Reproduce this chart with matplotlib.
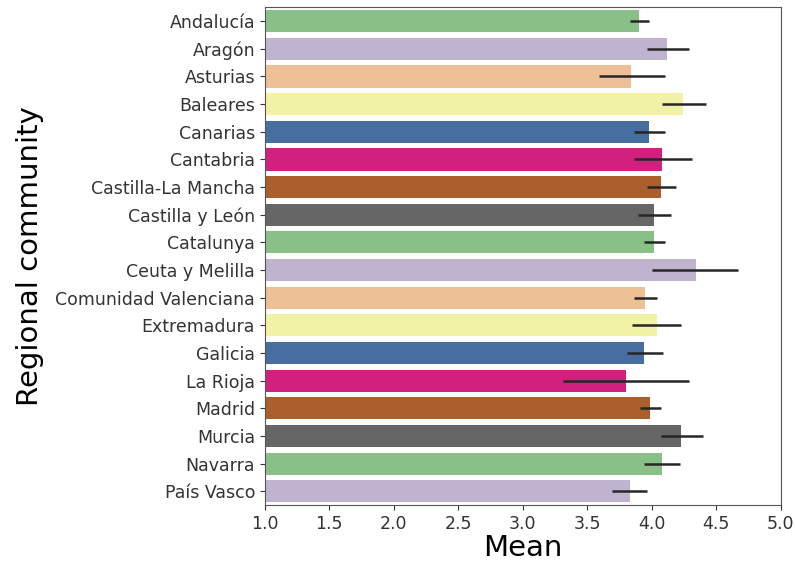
import numpy as np
import matplotlib
matplotlib.use("Agg")
import matplotlib.pyplot as plt
import seaborn as sns

regions = ["Andalucía", "Aragón", "Asturias", "Baleares", "Canarias", "Cantabria",
           "Castilla-La Mancha", "Castilla y León", "Catalunya", "Ceuta y Melilla",
           "Comunidad Valenciana", "Extremadura", "Galicia", "La Rioja", "Madrid",
           "Murcia", "Navarra", "País Vasco"]
means = [3.90, 4.12, 3.84, 4.24, 3.98, 4.08, 4.07, 4.02, 4.02, 4.34,
         3.95, 4.04, 3.94, 3.80, 3.99, 4.23, 4.08, 3.83]
ci_low = [3.83, 3.96, 3.59, 4.08, 3.86, 3.86, 3.96, 3.89, 3.94, 4.00,
          3.86, 3.85, 3.81, 3.31, 3.91, 4.07, 3.94, 3.69]
ci_high = [3.98, 4.29, 4.10, 4.42, 4.10, 4.31, 4.19, 4.15, 4.10, 4.67,
           4.04, 4.23, 4.09, 4.29, 4.07, 4.40, 4.22, 3.96]

# Accent palette, desaturated like seaborn's barplot default
palette = sns.color_palette("Accent", 8, desat=0.75)
colors = [palette[i % 8] for i in range(len(regions))]

means = np.array(means)
xerr = np.vstack([means - np.array(ci_low), np.array(ci_high) - means])
y = np.arange(len(regions))

fig = plt.figure(figsize=(7.95, 5.65), dpi=100)
ax = fig.add_axes([0.333, 0.106, 0.649, 0.881])

ax.barh(y, means, height=0.8, color=colors, left=0)
ax.errorbar(means, y, xerr=xerr, fmt="none", ecolor=".15", elinewidth=1.8, capsize=0)

ax.set_xlim(1.0, 5.0)
ax.set_ylim(len(regions) - 0.5, -0.5)
ax.set_xticks(np.arange(1.0, 5.01, 0.5))
ax.set_yticks(y)
ax.set_yticklabels(regions)
ax.tick_params(axis="both", labelsize=12.5, colors="#333333")
for s in ax.spines.values():
    s.set_color("#555555")

ax.set_xlabel("Mean", fontsize=21, labelpad=1)
ax.set_ylabel("Regional community", fontsize=21, labelpad=8)

fig.savefig("out.png", dpi=100)
